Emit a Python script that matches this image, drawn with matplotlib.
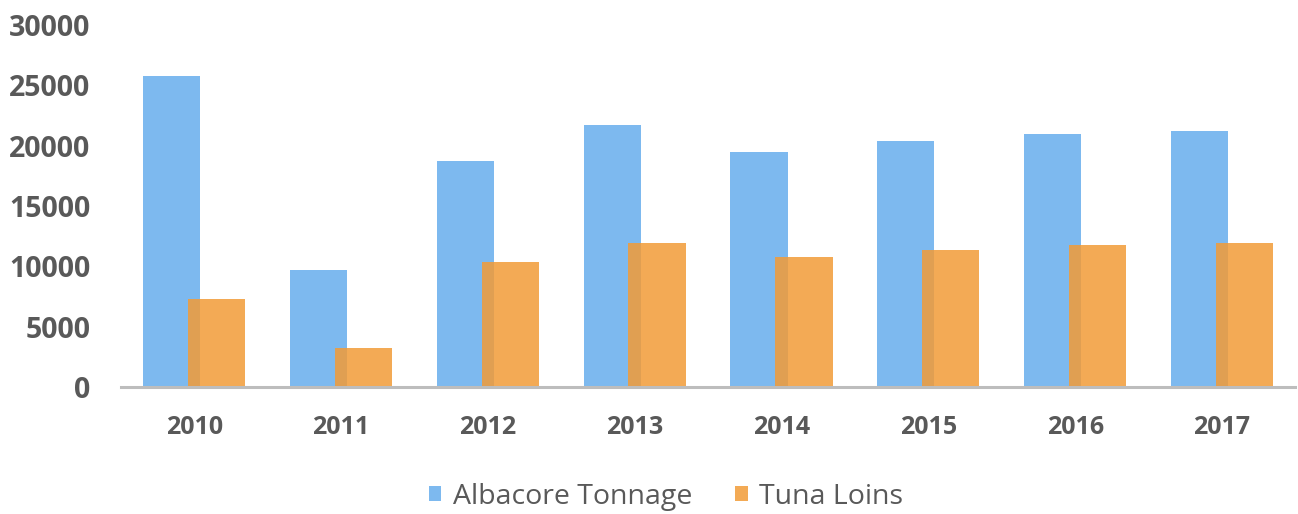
import matplotlib
matplotlib.use("Agg")
import matplotlib.pyplot as plt
import numpy as np

years = ["2010", "2011", "2012", "2013", "2014", "2015", "2016", "2017"]
albacore_tonnage = [25800, 9700, 18700, 21700, 19450, 20400, 20950, 21200]
tuna_loins = [7300, 3250, 10350, 11950, 10800, 11400, 11800, 11950]
y_ticks = [0, 5000, 10000, 15000, 20000, 25000, 30000]

plt.rcParams["font.family"] = ["Open Sans", "DejaVu Sans"]
text_grey = "#595959"
blue = "#7DB9EF"
orange = "#F29B37"

fig = plt.figure(figsize=(12.98, 5.14), dpi=100)
ax = fig.add_axes([0.093, 0.247, 0.905, 0.704])

x = np.arange(len(years))
width = 0.39
offset = 0.153
ax.bar(x - offset, albacore_tonnage, width, color=blue, label="Albacore Tonnage", zorder=2)
ax.bar(x + offset, tuna_loins, width, color=orange, alpha=0.85, label="Tuna Loins", zorder=3)

ax.set_xlim(-0.5, len(years) - 0.5)
ax.set_ylim(0, 30000)
ax.set_yticks(y_ticks)
ax.set_yticklabels([str(v) for v in y_ticks])
ax.set_xticks(x)
ax.set_xticklabels(years)

for side in ["top", "right", "left"]:
    ax.spines[side].set_visible(False)
ax.spines["bottom"].set_color("#BDBDBD")
ax.spines["bottom"].set_linewidth(2.2)
ax.spines["bottom"].set_zorder(4)

ax.tick_params(axis="both", length=0, labelcolor=text_grey)
ax.tick_params(axis="y", pad=22, labelsize=20.5)
ax.tick_params(axis="x", pad=20, labelsize=18)
for lbl in ax.get_xticklabels() + ax.get_yticklabels():
    lbl.set_fontweight("bold")

handles, labels = ax.get_legend_handles_labels()
leg = fig.legend(handles, labels, loc="center", bbox_to_anchor=(0.513, 0.034),
                 ncol=2, frameon=False, fontsize=20.5, handlelength=0.45,
                 handleheight=0.45, handletextpad=0.4, columnspacing=1.5)
for t in leg.get_texts():
    t.set_color(text_grey)

fig.savefig("out.png", dpi=100)
